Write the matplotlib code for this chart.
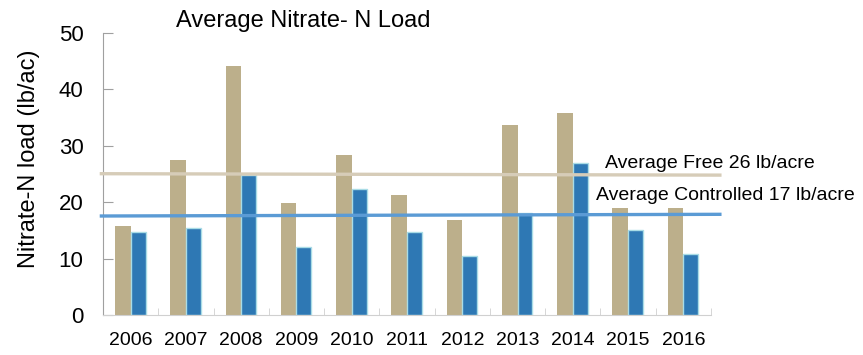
import numpy as np
import matplotlib.pyplot as plt

plt.rcParams['font.family'] = ['Liberation Sans', 'DejaVu Sans']

years = ['2006', '2007', '2008', '2009', '2010', '2011',
         '2012', '2013', '2014', '2015', '2016']
free_load = [15.8, 27.5, 44.1, 19.9, 28.4, 21.3, 16.8, 33.7, 35.8, 18.9, 18.9]
controlled_load = [14.7, 15.5, 24.8, 12.1, 22.3, 14.7, 10.5, 18.0, 27.0, 15.0, 10.8]

# average lines as drawn (x in category units, y in lb/ac)
avg_line_x = [-0.53, 10.66]
avg_free_y = [25.05, 24.8]
avg_ctrl_y = [17.55, 17.85]

tan = '#bcaf8b'
blue = '#2e78b4'

fig = plt.figure(figsize=(8.63, 3.55), dpi=100)
ax = fig.add_axes([0.1194, 0.1127, 0.7045, 0.7944])

x = np.arange(len(years))
ax.bar(x - 0.283, free_load, width=0.283, align='edge', color=tan, linewidth=0)
ax.bar(x, controlled_load, width=0.27, align='edge', color=blue,
       edgecolor='#a9dce6', linewidth=1.0)

ax.plot(avg_line_x, avg_free_y, color='#d6ccb8', linewidth=2.4, clip_on=False, zorder=3)
ax.plot(avg_line_x, avg_ctrl_y, color='#5b9bd5', linewidth=2.4, clip_on=False, zorder=3)

ax.set_xlim(-0.5, len(years) - 0.5)
ax.set_ylim(0, 50)
ax.set_yticks([0, 10, 20, 30, 40, 50])
ax.set_xticks(x)
ax.set_xticklabels(years)
ax.set_xticks(np.arange(-0.5, len(years)), minor=True)

ax.tick_params(axis='y', direction='in', length=7, color='#a0a0a0', labelsize=16, pad=14)
ax.tick_params(axis='x', which='major', length=0, labelsize=14, pad=12)
ax.tick_params(axis='x', which='minor', direction='in', length=5, color='#d0d0d0')

for side in ['top', 'right']:
    ax.spines[side].set_visible(False)
ax.spines['left'].set_color('#a0a0a0')
ax.spines['bottom'].set_color('#d0d0d0')

ax.set_ylabel('Nitrate-N load (lb/ac)', fontsize=17)
ax.yaxis.set_label_coords(-0.104, 0.555)

fig.text(176 / 863, 0.923, 'Average Nitrate- N Load', fontsize=17, va='baseline')
fig.text(605 / 863, 0.527, 'Average Free 26 lb/acre', fontsize=14, va='baseline')
fig.text(596 / 863, 0.437, 'Average Controlled 17 lb/acre', fontsize=14, va='baseline')

fig.savefig('out.png', dpi=100)
